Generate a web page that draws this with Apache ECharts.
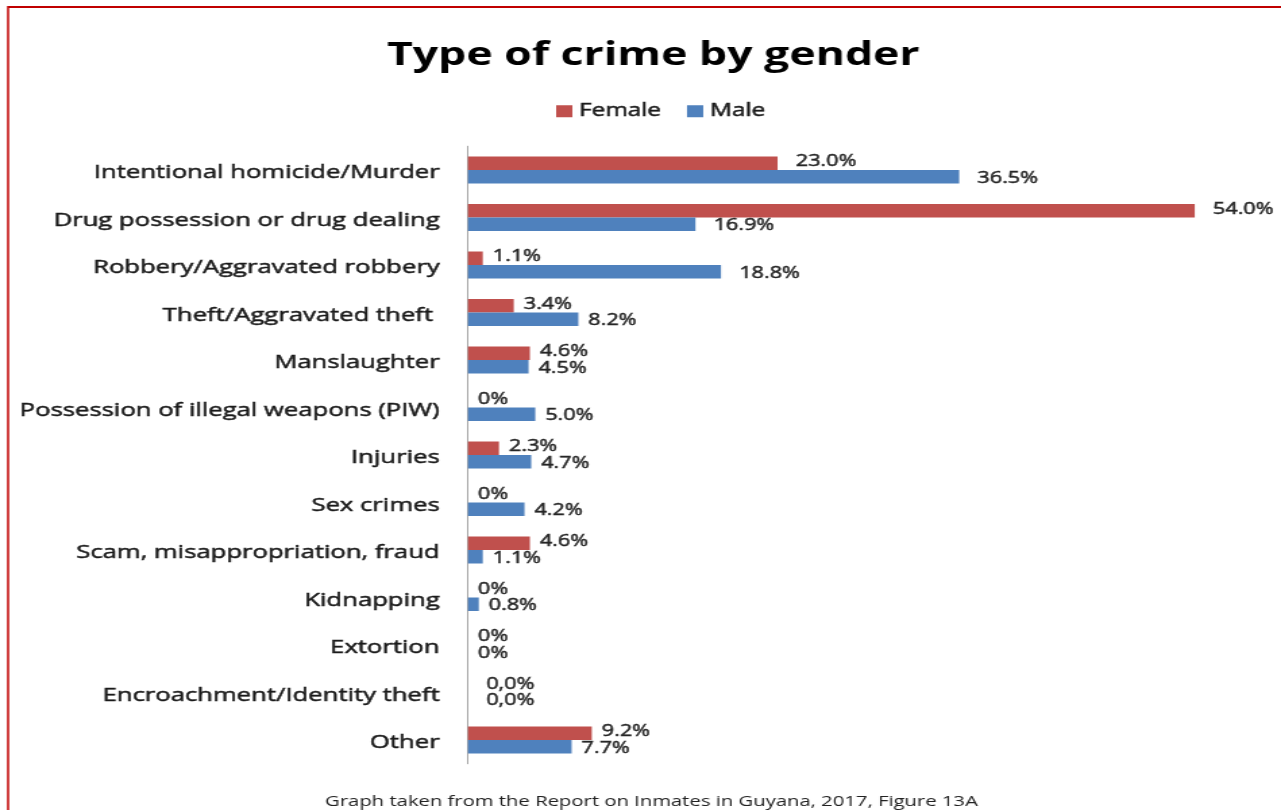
<!DOCTYPE html>
<html>
<head>
<meta charset="utf-8">
<script src="https://cdn.jsdelivr.net/npm/echarts@6/dist/echarts.min.js"></script>
<style>
html, body { margin: 0; padding: 0; background: #ffffff; }
#wrap { position: relative; width: 1281px; height: 810px; overflow: hidden; background: #ffffff; }
#chart { position: absolute; left: 0; top: 0; width: 949px; height: 810px; transform: scaleX(1.34984); transform-origin: 0 0; }
</style>
</head>
<body>
<div id="wrap"><div id="chart"></div></div>
<script>
const titleText = 'Type of crime by gender';
const sourceText = 'Graph taken from the Report on Inmates in Guyana, 2017, Figure 13A';
const seriesNames = ['Female', 'Male'];
const categories = [
  'Intentional homicide/Murder',
  'Drug possession or drug dealing',
  'Robbery/Aggravated robbery',
  'Theft/Aggravated theft ',
  'Manslaughter',
  'Possession of illegal weapons (PIW)',
  'Injuries',
  'Sex crimes',
  'Scam, misappropriation, fraud',
  'Kidnapping',
  'Extortion',
  'Encroachment/Identity theft',
  'Other'
];
const femaleValues = [23.0, 54.0, 1.1, 3.4, 4.6, 0, 2.3, 0, 4.6, 0, 0, 0, 9.2];
const maleValues = [36.5, 16.9, 18.8, 8.2, 4.5, 5.0, 4.7, 4.2, 1.1, 0.8, 0, 0, 7.7];
const femaleLabels = ['23.0%', '54.0%', '1.1%', '3.4%', '4.6%', '0%', '2.3%', '0%', '4.6%', '0%', '0%', '0,0%', '9.2%'];
const maleLabels = ['36.5%', '16.9%', '18.8%', '8.2%', '4.5%', '5.0%', '4.7%', '4.2%', '1.1%', '0.8%', '0%', '0,0%', '7.7%'];

const FONT = "'Open Sans', 'Noto Sans', sans-serif";
const chart = echarts.init(document.getElementById('chart'), null, { renderer: 'canvas' });

function buildData(values, texts, offY) {
  return values.map(function (v, i) {
    const t = texts[i];
    const wide = t.length >= 5 || t.indexOf(',') >= 0;
    return {
      value: v,
      label: { formatter: t, distance: wide ? 13.5 : 7.4, offset: [0, offY] }
    };
  });
}

function labelCfg() {
  return {
    show: true,
    position: 'right',
    color: '#262626',
    fontFamily: FONT,
    fontSize: 16,
    textBorderColor: '#262626',
    textBorderWidth: 0.5
  };
}

chart.setOption({
  animation: false,
  backgroundColor: '#ffffff',
  graphic: [
    { type: 'line', shape: { x1: 6, y1: 7, x2: 949, y2: 7 }, style: { stroke: '#c00000', lineWidth: 2 } },
    { type: 'line', shape: { x1: 6, y1: 6, x2: 6, y2: 810 }, style: { stroke: '#c00000', lineWidth: 1.5 } },
    { type: 'text', x: 484, y: 39, style: { text: titleText, fill: '#000000', font: "bold 33px 'Open Sans', 'Noto Sans', sans-serif", align: 'center', verticalAlign: 'top' } },
    { type: 'text', x: 482.6, y: 794, style: { text: sourceText, fill: '#222222', font: "15px 'Open Sans', 'Noto Sans', sans-serif", align: 'center', verticalAlign: 'top' } }
  ],
  legend: {
    data: seriesNames,
    left: 407,
    top: 97,
    itemWidth: 12,
    itemHeight: 12,
    itemGap: 19,
    icon: 'rect',
    textStyle: { color: '#1a1a1a', fontFamily: FONT, fontSize: 18, textBorderColor: '#1a1a1a', textBorderWidth: 0.5 }
  },
  grid: { left: 346.7, right: 4.1, top: 146.25, bottom: 46.25, containLabel: false },
  xAxis: {
    type: 'value',
    min: 0,
    max: 60,
    show: false,
    splitLine: { show: false }
  },
  yAxis: {
    type: 'category',
    data: categories,
    inverse: true,
    axisLine: { show: true, lineStyle: { color: '#a6a6a6', width: 1 } },
    axisTick: { show: false },
    axisLabel: { margin: 21, color: '#1a1a1a', fontFamily: FONT, fontSize: 19, verticalAlign: 'top', lineHeight: 6, textBorderColor: '#1a1a1a', textBorderWidth: 0.5 }
  },
  series: [
    {
      name: seriesNames[0],
      type: 'bar',
      data: buildData(femaleValues, femaleLabels, -1.5),
      barWidth: 13.5,
      barGap: '0%',
      itemStyle: { color: '#c0504d' },
      label: labelCfg()
    },
    {
      name: seriesNames[1],
      type: 'bar',
      data: buildData(maleValues, maleLabels, 1.5),
      barWidth: 13.5,
      barGap: '0%',
      itemStyle: { color: '#4f81bd' },
      label: labelCfg()
    }
  ]
});
</script>
</body>
</html>
